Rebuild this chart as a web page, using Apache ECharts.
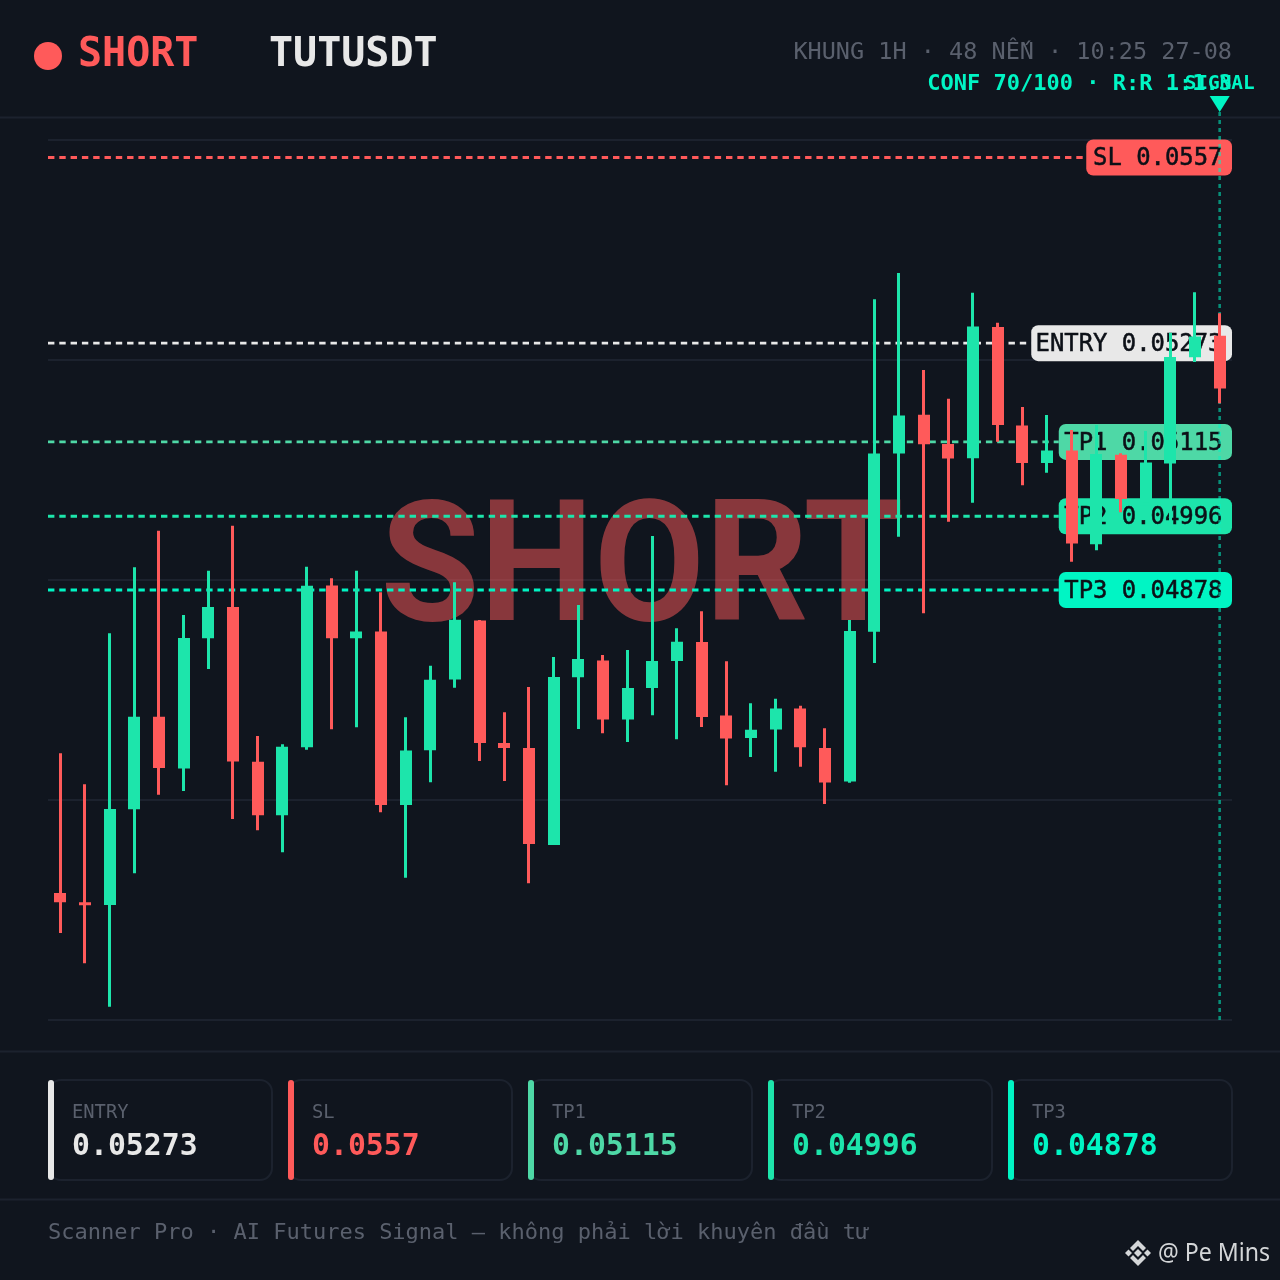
<!DOCTYPE html>
<html><head><meta charset="utf-8">
<style>html,body{margin:0;padding:0;background:#10151e}#c{width:1280px;height:1280px}</style>
<script src="https://cdn.jsdelivr.net/npm/echarts@6/dist/echarts.min.js"></script>
</head><body><div id="c"></div>
<script>
// open, close, low, high
const candles = [
[.043927,.043788,.043292,.046167],[.043777,.04374,.042807,.045671],[.043745,.045271,.042113,.048087],[.045276,.046748,.044247,.049143],
[.046748,.045937,.045505,.049729],[.045927,.048007,.045564,.04838],[.048012,.048503,.047516,.049089],[.048503,.046039,.045116,.049809],
[.046028,.04518,.044935,.046444],[.04518,.046268,.044583,.046311],[.046268,.048844,.046225,.049153],[.048849,.048012,.046551,.048967],
[.048012,.048113,.046583,.049089],[.048113,.045345,.045223,.048743],[.045345,.046209,.044177,.046743],[.04622,.04734,.045703,.047569],
[.047351,.0483,.047217,.048903],[.048289,.046337,.046044,.0483],[.046327,.046257,.045724,.046823],[.046247,.044721,.044087,.047228],
[.044705,.047383,.044705,.047708],[.047388,.047671,.046556,.04854],[.047649,.046711,.046487,.04774],[.046711,.047207,.046348,.04782],
[.047217,.047639,.046775,.049644],[.047649,.047948,.046391,.048167],[.047943,.046753,.046588,.048439],[.046769,.046407,.045655,.047639],
[.046417,.04654,.046108,.046967],[.046551,.046881,.045873,.047041],[.046881,.046268,.045953,.046929],[.046247,.045703,.045356,.046567],
[.045719,.048119,.045697,.0483],[.048116,.050961,.047612,.053431],[.050967,.051569,.049633,.053852],[.05158,.051116,.048407,.0523],
[.051111,.050887,.049873,.051841],[.050892,.052993,.050177,.053537],[.052983,.051425,.051153,.053057],[.051409,.050817,.050455,.051708],
[.050817,.051009,.050657,.05158],[.051009,.049527,.049233,.05134],[.049516,.050951,.049415,.05142],[.05094,.050241,.050023,.050967],
[.05014,.050817,.05014,.051324],[.050807,.052503,.049868,.052897],[.052508,.052833,.052428,.053543],[.052844,.052007,.051767,.053207]
];
const categories = candles.map((_, i) => String(i + 1));
const levelNames = ['SL', 'ENTRY', 'TP1', 'TP2', 'TP3'];
const levelValues = [0.0557, 0.05273, 0.05115, 0.04996, 0.04878];
const levelTexts = ['0.0557', '0.05273', '0.05115', '0.04996', '0.04878'];
const levelColors = ['#ff5a5a', '#e8e8e8', '#4ed8a6', '#1de5ab', '#00f5c4'];
const gridValues = [0.05598, 0.05246, 0.04894, 0.04542, 0.0419];
const cardOrder = [1, 0, 2, 3, 4];
const yMin = 0.0419, yMax = 0.05598;
const signalIndex = 47;

const BG = '#10151e', LINE = '#1c222e', DIM = '#5a606d', INK = '#0c1017';
const UP = '#1de5ab', DOWN = '#ff5a5a';
const MONO = '"DejaVu Sans Mono"';

// The values above are the outer edges seen in the picture; the body outline is
// stroked outside them, so pull open/close in by half the stroke (about 1.3px of price).
const HALF_STROKE = 0.00002;
const drawnCandles = candles.map(([o, c, l, h]) => {
  const dir = c >= o ? 1 : -1, mid = (o + c) / 2;
  let o2 = o + dir * HALF_STROKE, c2 = c - dir * HALF_STROKE;
  if ((c2 - o2) * dir <= 0) { o2 = mid - dir * 1e-7; c2 = mid + dir * 1e-7; }
  return [o2, c2, l, h];
});

const chart = echarts.init(document.getElementById('c'), null, { renderer: 'canvas', width: 1280, height: 1280 });

const els = [];
const t = (text, x, y, font, fill, align, z, extra) => els.push(Object.assign({ type: 'text', z: z || 5, style: { text, x, y, font, fill, textAlign: align || 'left', textVerticalAlign: 'middle' } }, extra || {}));
const r = (x, y, w, h, opt) => els.push({ type: 'rect', z: 5, shape: { x, y, width: w, height: h, r: opt.r || 0 }, style: opt.style });

// panel separators
[117.5, 1051.5, 1199.5].forEach(y => r(0, y - 1, 1280, 2, { style: { fill: LINE } }));
// header
els.push({ type: 'circle', z: 5, shape: { cx: 48, cy: 56, r: 14 }, style: { fill: DOWN } });
t('SHORT', 78, 55.5, `bold 40px ${MONO}`, DOWN);
t('TUTUSDT', 269, 55.5, `bold 40px ${MONO}`, '#e8e8e8');
t('KHUNG 1H · 48 NẾN · 10:25 27-08', 1232, 53, `23.5px ${MONO}`, DIM, 'right');
t('CONF 70/100 · R:R 1:1.3', 1232, 84, `bold 22px ${MONO}`, '#00f5c4', 'right');
// watermark
t('SHORT', 642, 578, 'bold 168px Roboto', 'rgba(255,90,90,0.5)', 'center', 2, { originX: 642, originY: 560, scaleX: 0.96 });
// cards
cardOrder.forEach((li, i) => {
  const x = 48 + i * 240, col = levelColors[li];
  els.push({ type: 'rect', z: 5, shape: { x: x + 1, y: 1080, width: 223, height: 100, r: 12 }, style: { fill: 'transparent', stroke: LINE, lineWidth: 2 } });
  r(x, 1080, 6, 100, { r: 3, style: { fill: col } });
  t(levelNames[li], x + 24, 1113.5, `18.8px ${MONO}`, DIM);
  t(levelTexts[li], x + 24, 1147.5, `bold 29.8px ${MONO}`, col);
});
// footer
t('Scanner Pro · AI Futures Signal — không phải lời khuyên đầu tư', 48, 1233.5, `22px ${MONO}`, DIM);
// stamp
const stamp = '#d4d6d8';
[[[1138,1240],[1146,1248],[1143,1251],[1138,1246],[1133,1251],[1130,1248]],
 [[1138,1266],[1146,1258],[1143,1255],[1138,1260],[1133,1255],[1130,1258]],
 [[1138,1249],[1142,1253],[1138,1257],[1134,1253]],
 [[1125,1253],[1128.5,1249.5],[1132,1253],[1128.5,1256.5]],
 [[1151,1253],[1147.5,1249.5],[1144,1253],[1147.5,1256.5]]
].forEach(points => els.push({ type: 'polygon', z: 5, shape: { points }, style: { fill: stamp } }));
t('@ Pe Mins', 1158, 1254, '25px "Noto Sans"', stamp, 'left', 5, { originX: 1158, originY: 1254, scaleX: 0.925 });

const gridSeries = {
  type: 'custom', z: 1, silent: true, clip: false, animation: false,
  data: gridValues.map(v => [0, v]),
  renderItem(params, api) {
    const a = api.coord([0, api.value(1)]), s = params.coordSys;
    return { type: 'line', shape: { x1: s.x, y1: a[1], x2: s.x + s.width, y2: a[1] }, style: { stroke: LINE, lineWidth: 2 } };
  }
};
const levelSeries = {
  type: 'custom', z: 3, silent: true, clip: false, animation: false,
  data: levelValues.map((v, i) => [signalIndex, v, i]),
  renderItem(params, api) {
    const i = api.value(2), y = api.coord([0, api.value(1)])[1], s = params.coordSys;
    const label = levelNames[i] + ' ' + levelTexts[i];
    const right = s.x + s.width, w = label.length * 13.75 + 22;
    return { type: 'group', children: [
      { type: 'line', shape: { x1: s.x, y1: y, x2: right - w, y2: y }, style: { stroke: levelColors[i], lineWidth: 2.8, lineDash: [6.4, 4.9] } },
      { type: 'rect', shape: { x: right - w, y: y - 18, width: w, height: 36, r: 7 }, style: { fill: levelColors[i] } },
      { type: 'text', style: { text: label, x: right - 9.5, y: y + 1.5, font: `500 23.9px ${MONO}`, fill: INK, stroke: INK, lineWidth: 0.5, textAlign: 'right', textVerticalAlign: 'middle' } }
    ] };
  }
};
const signalSeries = {
  type: 'custom', z: 4, silent: true, clip: false, animation: false,
  data: [[signalIndex, yMin]],
  renderItem(params, api) {
    const p = api.coord([api.value(0), api.value(1)]);
    return { type: 'group', children: [
      { type: 'line', shape: { x1: p[0], y1: p[1], x2: p[0], y2: 112 }, style: { stroke: 'rgba(0,245,196,0.55)', lineWidth: 2.6, lineDash: [4, 4] } },
      { type: 'polygon', shape: { points: [[p[0] - 10, 96], [p[0] + 10, 96], [p[0], 112]] }, style: { fill: '#00f5c4' } },
      { type: 'text', style: { text: 'SIGNAL', x: p[0], y: 83.5, font: `bold 19.4px ${MONO}`, fill: '#00f5c4', textAlign: 'center', textVerticalAlign: 'middle' } }
    ] };
  }
};

chart.setOption({
  backgroundColor: BG,
  animation: false,
  grid: { left: 48, right: 48, top: 140, bottom: 260 },
  xAxis: { type: 'category', data: categories, boundaryGap: true, axisLine: { show: false }, axisTick: { show: false }, axisLabel: { show: false }, splitLine: { show: false } },
  yAxis: { type: 'value', min: yMin, max: yMax, scale: true, axisLine: { show: false }, axisTick: { show: false }, axisLabel: { show: false }, splitLine: { show: false } },
  graphic: { elements: els },
  series: [
    gridSeries, levelSeries, signalSeries,
    { type: 'candlestick', z: 5, silent: true, clip: false, barWidth: 9.5, data: drawnCandles,
      itemStyle: { color: UP, color0: DOWN, borderColor: UP, borderColor0: DOWN, borderWidth: 3 } }
  ]
});
</script></body></html>
